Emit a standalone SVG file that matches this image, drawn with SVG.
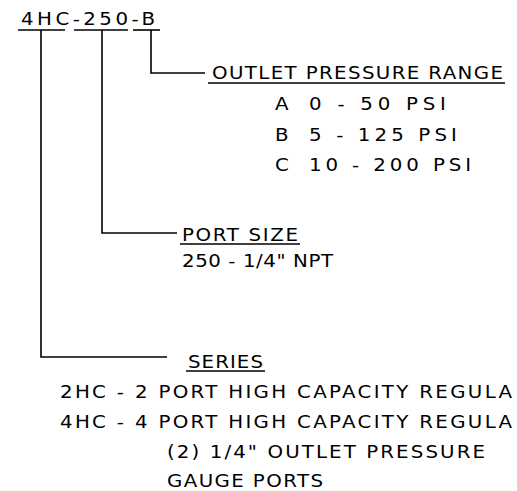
<svg xmlns="http://www.w3.org/2000/svg" width="517" height="491" viewBox="0 0 517 491">
<style>
  text { font-family: "DejaVu Sans", "Liberation Sans", Arial, sans-serif; font-size: 18px; fill: #000; }
  .ln { stroke: #000; stroke-width: 1.6; fill: none; }
</style>
<rect width="517" height="491" fill="#fff"/>
<g id="title">
  <text transform="translate(21 25) scale(1.1 1)" textLength="121.8" lengthAdjust="spacing">4HC-250-B</text>
</g>
<g id="connectors">
  <line class="ln" x1="18" y1="30" x2="65" y2="30"/>
  <line class="ln" x1="74" y1="30" x2="128" y2="30"/>
  <line class="ln" x1="133" y1="30" x2="160" y2="30"/>
  <path class="ln" d="M151 30 V73 H205"/>
  <path class="ln" d="M102 30 V233 H177"/>
  <path class="ln" d="M41 30 V357 H167"/>
</g>
<g id="outlet-pressure-range">
  <text transform="translate(212 79) scale(1.1 1)" textLength="264.5" lengthAdjust="spacing">OUTLET PRESSURE RANGE</text>
  <line class="ln" x1="208" y1="83" x2="505" y2="83"/>
  <text transform="translate(275 110) scale(1.1 1)">A</text>
  <text transform="translate(309 110) scale(1.1 1)" textLength="124.5" lengthAdjust="spacing">0 - 50 PSI</text>
  <text transform="translate(275 141) scale(1.1 1)">B</text>
  <text transform="translate(309 141) scale(1.1 1)" textLength="134.5" lengthAdjust="spacing">5 - 125 PSI</text>
  <text transform="translate(275 171) scale(1.1 1)">C</text>
  <text transform="translate(309 171) scale(1.1 1)" textLength="147.3" lengthAdjust="spacing">10 - 200 PSI</text>
</g>
<g id="port-size">
  <text transform="translate(182 241) scale(1.1 1)" textLength="105.5" lengthAdjust="spacing">PORT SIZE</text>
  <line class="ln" x1="180" y1="244" x2="300" y2="244"/>
  <text transform="translate(182 267) scale(1.1 1)" textLength="137.3" lengthAdjust="spacing">250 - 1/4" NPT</text>
</g>
<g id="series">
  <text transform="translate(188 368) scale(1.1 1)" textLength="68.2" lengthAdjust="spacing">SERIES</text>
  <line class="ln" x1="186" y1="371" x2="265" y2="371"/>
  <text transform="translate(60 398) scale(1.1 1)" textLength="410.9" lengthAdjust="spacing">2HC - 2 PORT HIGH CAPACITY REGULA</text>
  <text transform="translate(60 428) scale(1.1 1)" textLength="410.9" lengthAdjust="spacing">4HC - 4 PORT HIGH CAPACITY REGULA</text>
  <text transform="translate(167 458) scale(1.1 1)" textLength="289.1" lengthAdjust="spacing">(2) 1/4" OUTLET PRESSURE</text>
  <text transform="translate(167 487) scale(1.1 1)" textLength="141.8" lengthAdjust="spacing">GAUGE PORTS</text>
</g>
</svg>
